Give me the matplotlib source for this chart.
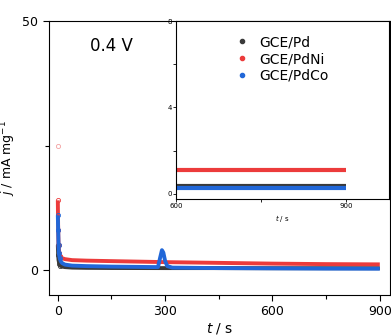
import numpy as np
import matplotlib.pyplot as plt
from matplotlib.ticker import MultipleLocator

##data
#main panel (t in s, j in mA mg-1)
t_pd = [0, 1, 2, 4, 7, 12, 20, 40, 80, 150, 300, 450, 600, 750, 900]
j_pd = [5.0, 3.0, 2.0, 1.3, 0.9, 0.7, 0.6, 0.5, 0.45, 0.42, 0.4, 0.4, 0.38, 0.38, 0.38]
t_pdni = [0, 1, 2, 4, 7, 12, 20, 40, 80, 150, 300, 450, 600, 750, 900]
j_pdni = [14.0, 8.0, 5.0, 3.5, 2.8, 2.4, 2.2, 2.0, 1.9, 1.8, 1.6, 1.45, 1.3, 1.2, 1.15]
t_pdco = [0, 1, 2, 3, 5, 8, 12, 20, 40, 80, 150, 280, 286, 291, 295, 300, 306, 320, 450, 600, 750, 900]
j_pdco = [11.0, 8.0, 5.0, 3.5, 2.5, 1.8, 1.4, 1.1, 0.9, 0.8, 0.7, 0.6, 2.5, 4.0, 3.5, 1.8, 0.8, 0.5, 0.4, 0.35, 0.3, 0.28]
#inset panel
t_ins = [600, 700, 800, 900]
j_ins_pd = [0.38, 0.38, 0.38, 0.38]
j_ins_pdni = [1.12, 1.12, 1.12, 1.12]
j_ins_pdco = [0.26, 0.26, 0.26, 0.26]

labels = ['GCE/Pd', 'GCE/PdNi', 'GCE/PdCo']
colors = ['#3a3a3a', '#ec3b3b', '#2167d8']

fig = plt.figure(figsize=(3.91, 3.36), dpi=100)
ax = fig.add_axes([0.125, 0.122, 0.872, 0.8155])

#main plot
for t, j, c in zip([t_pd, t_pdni, t_pdco], [j_pd, j_pdni, j_pdco], colors):
    ax.plot(t, j, color=c, lw=2.8, marker='o', ms=3, mfc='none', mec=c, mew=0.6,
            markevery=slice(0, 5), solid_capstyle='butt')
ax.plot([0], [25], 'o', ms=3, mfc='none', mec='#f3a0a0', mew=0.6)

ax.set_xlim(-25, 928)
ax.set_ylim(-5, 50)
ax.set_xticks([0, 300, 600, 900])
ax.xaxis.set_minor_locator(MultipleLocator(150))
ax.set_yticks([0, 50])
ax.yaxis.set_minor_locator(MultipleLocator(25))
ax.tick_params(which='both', direction='out', labelsize=9, width=0.8)
ax.tick_params(which='major', length=4)
ax.tick_params(which='minor', length=3)
ax.set_xlabel(r'$t$ / s', fontsize=10, labelpad=2)
ax.set_ylabel(r'$j$ / mA mg$^{-1}$', fontsize=9)
ax.yaxis.set_label_coords(-0.09, 0.5)
ax.text(0.12, 0.89, '0.4 V', transform=ax.transAxes, fontsize=12)

#inset
axin = fig.add_axes([0.450, 0.408, 0.545, 0.5295])
for j, c, lab in zip([j_ins_pd, j_ins_pdni, j_ins_pdco], colors, labels):
    axin.plot(t_ins, j, color=c, lw=3, solid_capstyle='butt')
    axin.plot([], [], 'o', ms=3, color=c, label=lab)
axin.set_xlim(600, 976)
axin.set_ylim(-0.23, 8)
axin.set_xticks([600, 900])
axin.xaxis.set_minor_locator(MultipleLocator(150))
axin.set_yticks([0, 4, 8])
axin.yaxis.set_minor_locator(MultipleLocator(2))
axin.tick_params(which='both', direction='out', labelsize=5, width=0.6, length=2, pad=1)
axin.set_xlabel(r'$t$ / s', fontsize=5, labelpad=3)
for s in axin.spines.values():
    s.set_linewidth(0.8)
axin.legend(loc='upper left', bbox_to_anchor=(0.21, 0.99), frameon=False, fontsize=10,
            handletextpad=0.7, labelspacing=0.2, handlelength=1.2)

fig.savefig('out.png', dpi=100)
